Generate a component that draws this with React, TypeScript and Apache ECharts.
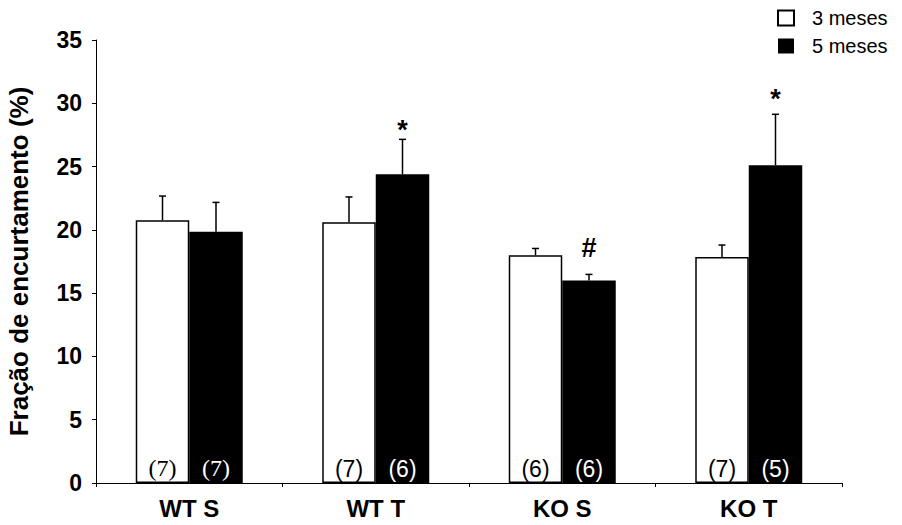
import React, { useEffect, useRef } from "react";
import * as echarts from "echarts";

const categories = ["WT S", "WT T", "KO S", "KO T"];
const seriesNames = ["3 meses", "5 meses"];
const mean3 = [20.75, 20.6, 18.0, 17.85];
const err3 = [1.92, 2.0, 0.53, 0.95];
const mean5 = [19.85, 24.4, 16.0, 25.1];
const err5 = [2.32, 2.75, 0.48, 4.03];
const n3 = [7, 7, 6, 7];
const n5 = [7, 6, 6, 5];
const sig5 = ["", "*", "#", "*"];
const sigY5 = [null, 28.3, 18.6, 30.7];
const yTicks = [0, 5, 10, 15, 20, 25, 30, 35];

const SANS = "'Liberation Sans', Arial, sans-serif";
const SERIF = "'Liberation Serif', 'Times New Roman', serif";
const BAR_W = 53.5;

function errorSeries(name: string, means: number[], errs: number[], offset: number) {
  return {
    type: "custom",
    name: name + " erro",
    silent: true,
    z: 5,
    data: means.map((m, i) => [i, m, errs[i]]),
    encode: { x: 0, y: 1 },
    renderItem: (params: any, api: any) => {
      const idx = api.value(0);
      const m = api.value(1);
      const e = api.value(2);
      const b = api.coord([idx, m]);
      const t = api.coord([idx, m + e]);
      const x = b[0] + offset;
      return {
        type: "group",
        children: [
          { type: "line", shape: { x1: x, y1: b[1], x2: x, y2: t[1] }, style: { stroke: "#000", lineWidth: 1.5 } },
          { type: "line", shape: { x1: x - 3.5, y1: t[1], x2: x + 3.5, y2: t[1] }, style: { stroke: "#000", lineWidth: 1.5 } },
        ],
      };
    },
  };
}

export default function App() {
  const ref = useRef<HTMLDivElement>(null);
  useEffect(() => {
    if (!ref.current) return;
    const chart = echarts.init(ref.current, null, { renderer: "svg" });
    const option: any = {
      animation: false,
      backgroundColor: "#fff",
      grid: { left: 96, right: 60, top: 40, bottom: 42, containLabel: false, outerBoundsMode: "none" },
      legend: {
        orient: "vertical",
        left: 777,
        top: 8,
        padding: 0,
        itemWidth: 16,
        itemHeight: 15,
        itemGap: 8,
        icon: "rect",
        data: seriesNames,
        textStyle: { fontFamily: SANS, fontSize: 20, color: "#000", padding: [0, 0, 0, 13] },
      },
      xAxis: {
        type: "category",
        data: categories,
        axisLine: { lineStyle: { color: "#000", width: 1 } },
        axisTick: { show: true, length: 4, lineStyle: { color: "#000" } },
        axisLabel: { fontFamily: SANS, fontSize: 24, fontWeight: "bold", color: "#000", margin: 13 },
      },
      yAxis: {
        type: "value",
        min: 0,
        max: 35,
        interval: 5,
        name: "Fração de encurtamento (%)",
        nameLocation: "middle",
        nameGap: 64,
        nameTextStyle: { fontFamily: SANS, fontSize: 26, fontWeight: "bold", color: "#000" },
        axisLine: { show: true, lineStyle: { color: "#000", width: 1 } },
        axisTick: { show: true, length: 4, lineStyle: { color: "#000" } },
        splitLine: { show: false },
        axisLabel: {
          fontFamily: SANS,
          fontSize: 23,
          fontWeight: "bold",
          color: "#000",
          margin: 14,
          customValues: yTicks,
        },
      },
      series: [
        {
          type: "bar",
          name: seriesNames[0],
          barWidth: BAR_W,
          barGap: "0%",
          itemStyle: { color: "#fff", borderColor: "#000", borderWidth: 1.5 },
          data: mean3.map((v, i) => ({
            value: v,
            label: i === 0 ? { fontFamily: SERIF, fontSize: 24 } : undefined,
          })),
          label: {
            show: true,
            position: "insideBottom",
            distance: 3,
            fontFamily: SANS,
            fontSize: 23,
            color: "#000",
            formatter: (p: any) => "(" + n3[p.dataIndex] + ")",
          },
        },
        {
          type: "bar",
          name: seriesNames[1],
          barWidth: BAR_W,
          barGap: "0%",
          itemStyle: { color: "#000", borderColor: "#000", borderWidth: 0 },
          data: mean5.map((v, i) => ({
            value: v,
            label: i === 0 ? { fontFamily: SERIF, fontSize: 24 } : undefined,
          })),
          label: {
            show: true,
            position: "insideBottom",
            distance: 3,
            fontFamily: SANS,
            fontSize: 23,
            color: "#fff",
            formatter: (p: any) => "(" + n5[p.dataIndex] + ")",
          },
        },
        errorSeries(seriesNames[0], mean3, err3, -BAR_W / 2),
        errorSeries(seriesNames[1], mean5, err5, BAR_W / 2),
        {
          type: "custom",
          name: "significância",
          silent: true,
          z: 6,
          data: sigY5.map((y, i) => [i, y == null ? 0 : y, sig5[i]]),
          encode: { x: 0, y: 1 },
          renderItem: (params: any, api: any) => {
            const i = params.dataIndex;
            if (!sig5[i]) return null;
            const p = api.coord([api.value(0), api.value(1)]);
            const isHash = sig5[i] === "#";
            return {
              type: "text",
              x: p[0] + BAR_W / 2,
              y: p[1] + (isHash ? 0 : 5),
              style: {
                text: sig5[i],
                fontFamily: SANS,
                fontWeight: "bold",
                fontSize: isHash ? 27 : 27,
                fill: "#000",
                align: "center",
                verticalAlign: "middle",
              },
            };
          },
        },
      ],
    };
    chart.setOption(option);
    return () => chart.dispose();
  }, []);
  return (
    <div
      ref={ref}
      style={{ position: "fixed", left: 0, top: 0, width: 902, height: 525, background: "#fff" }}
    />
  );
}
